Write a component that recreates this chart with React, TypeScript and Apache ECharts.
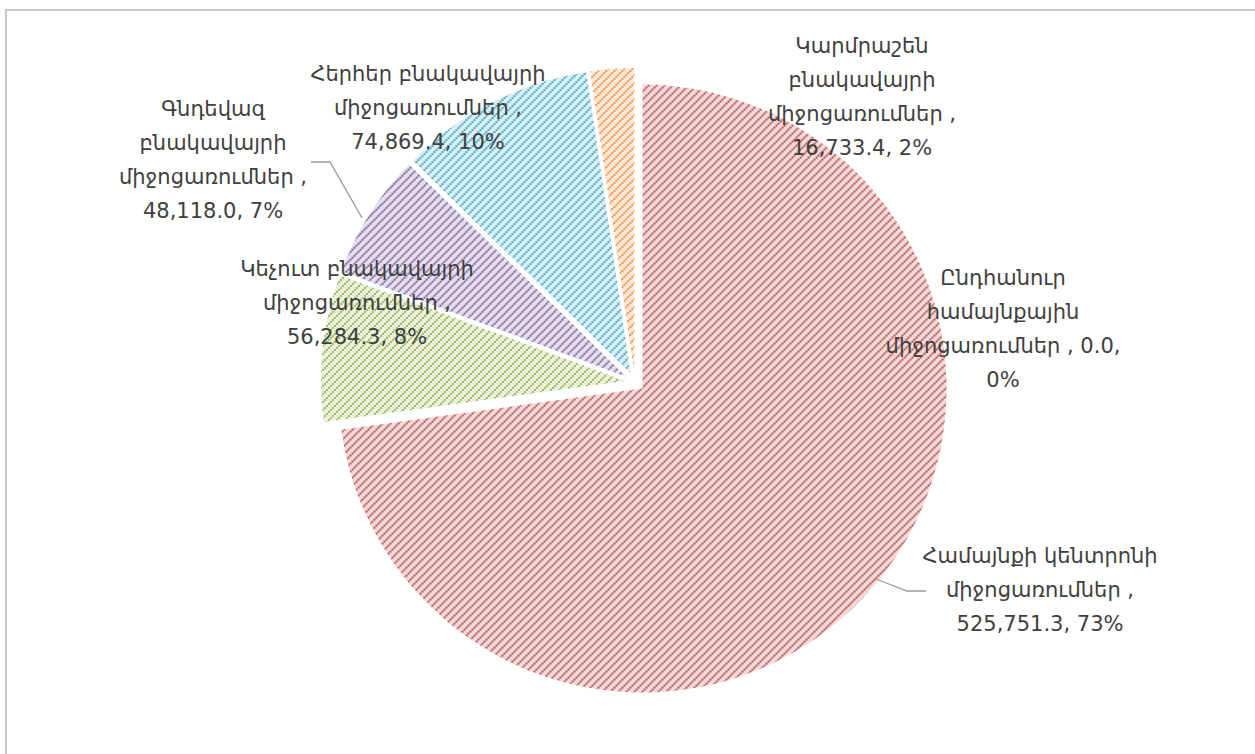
import React, { useEffect, useRef } from "react";
import * as echarts from "echarts";

const categories = [
  "Ընդհանուր համայնքային միջոցառումներ",
  "Համայնքի կենտրոնի միջոցառումներ",
  "Կեչուտ բնակավայրի միջոցառումներ",
  "Գնդեվազ բնակավայրի միջոցառումներ",
  "Հերհեր բնակավայրի միջոցառումներ",
  "Կարմրաշեն բնակավայրի միջոցառումներ",
];
const values = [0.0, 525751.3, 56284.3, 48118.0, 74869.4, 16733.4];

const stripeColors = ["#4F81BD", "#C0504D", "#9BBB59", "#8064A2", "#4BACC6", "#F79646"];
const tintColors = ["#DCE6F2", "#F2DCDB", "#EBF1DE", "#E5E0EC", "#DAEEF3", "#FDE9D9"];

// label layout: text block centres, wrap widths, leader lines
const labelCenters = [
  [1003, 329],
  [1040, 590],
  [357, 303],
  [213, 160],
  [428, 108],
  [862, 97],
];
const wrapChars = [20, 20, 20, 15, 20, 15];
const leaderLines: Record<number, number[][]> = {
  1: [
    [876, 579],
    [907, 591],
    [926, 591],
  ],
  3: [
    [311, 162],
    [330, 162],
    [362, 218],
  ],
};

const FONT = "'DejaVu Sans', sans-serif";

function makePattern(stripe: string, tint: string) {
  const block = 2;
  const n = 4;
  const size = block * n;
  const c = document.createElement("canvas");
  c.width = size;
  c.height = size;
  const ctx = c.getContext("2d")!;
  ctx.fillStyle = tint;
  ctx.fillRect(0, 0, size, size);
  ctx.fillStyle = stripe;
  for (let bx = 0; bx < n; bx++) {
    for (let by = 0; by < n; by++) {
      if ((bx + by) % n === n - 1) {
        ctx.fillRect(bx * block, by * block, block, block);
      }
    }
  }
  return { image: c, repeat: "repeat", imageWidth: size, imageHeight: size } as any;
}

function wrap(text: string, max: number) {
  const tokens = text.split(" ");
  const lines: string[] = [];
  let cur = "";
  for (const t of tokens) {
    if (!cur) cur = t;
    else if ((cur + " " + t).length <= max) cur = cur + " " + t;
    else {
      lines.push(cur);
      cur = t;
    }
  }
  if (cur) lines.push(cur);
  return lines.join("\n");
}

const fmt = (v: number) =>
  v.toLocaleString("en-US", { minimumFractionDigits: 1, maximumFractionDigits: 1 });

export default function App() {
  const ref = useRef<HTMLDivElement>(null);
  useEffect(() => {
    if (!ref.current) return;
    const chart = echarts.init(ref.current, null, { renderer: "svg" });
    const total = values.reduce((a, b) => a + b, 0);
    const data = categories.map((name, i) => {
      const pat = makePattern(stripeColors[i], tintColors[i]);
      return {
        name,
        value: values[i],
        selected: true,
        itemStyle: { color: pat },
        select: { itemStyle: { color: pat } },
      };
    });

    const labelGraphics: any[] = categories.map((name, i) => {
      const pct = Math.round((values[i] / total) * 100);
      const txt = wrap(`${name} , ${fmt(values[i])}, ${pct}%`, wrapChars[i]);
      return {
        type: "text",
        x: labelCenters[i][0],
        y: labelCenters[i][1],
        silent: true,
        z: 10,
        style: {
          text: txt,
          fill: "#404040",
          fontFamily: FONT,
          fontSize: 21,
          lineHeight: 34,
          align: "center",
          verticalAlign: "middle",
          textAlign: "center",
          textVerticalAlign: "middle",
        },
      };
    });
    const lineGraphics: any[] = Object.keys(leaderLines).map((k) => ({
      type: "polyline",
      silent: true,
      z: 10,
      shape: { points: leaderLines[Number(k)] },
      style: { stroke: "#9a9a9a", lineWidth: 1.3, fill: "none" },
    }));

    chart.setOption({
      animation: false,
      backgroundColor: "#ffffff",
      graphic: [
        {
          type: "rect",
          silent: true,
          shape: { x: 6, y: 10, width: 1280, height: 780 },
          style: { fill: "none", stroke: "#c8c8c8", lineWidth: 2 },
        },
        ...lineGraphics,
        ...labelGraphics,
      ],
      series: [
        {
          type: "pie",
          center: [635, 382],
          radius: 304,
          startAngle: 90,
          clockwise: true,
          selectedMode: "multiple",
          selectedOffset: 10,
          avoidLabelOverlap: false,
          emphasis: { disabled: true },
          itemStyle: { borderWidth: 0 },
          label: { show: false },
          labelLine: { show: false },
          data,
        },
      ],
    });
    return () => chart.dispose();
  }, []);
  return (
    <div
      ref={ref}
      style={{ position: "absolute", left: 0, top: 0, width: 1255, height: 754 }}
    />
  );
}
